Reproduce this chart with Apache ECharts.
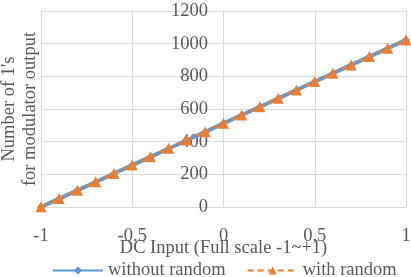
<!DOCTYPE html>
<html>
<head>
<meta charset="utf-8">
<script src="https://cdn.jsdelivr.net/npm/echarts@6/dist/echarts.min.js"></script>
<style>
html, body { margin: 0; padding: 0; background: #fff; }
#chart { width: 411px; height: 277px; }
</style>
</head>
<body>
<div id="chart"></div>
<script>
var chart = echarts.init(document.getElementById('chart'), null, { renderer: 'canvas' });

// DC input, full scale -1 ~ +1
var dcInput = [-1, -0.9, -0.8, -0.7, -0.6, -0.5, -0.4, -0.3, -0.2, -0.1, 0,
               0.1, 0.2, 0.3, 0.4, 0.5, 0.6, 0.7, 0.8, 0.9, 1];
var withoutRandom = [0, 51, 102, 153, 205, 256, 307, 358, 409, 460, 512,
                     563, 614, 665, 716, 768, 819, 870, 921, 972, 1023];
var withRandom = [2, 52, 103, 154, 205, 257, 307, 359, 410, 461, 512,
                  563, 614, 666, 717, 768, 819, 870, 921, 972, 1022];

function pairs(xs, ys) {
    var out = [];
    for (var i = 0; i < xs.length; i++) out.push([xs[i], ys[i]]);
    return out;
}

var serif = '"Liberation Serif", "DejaVu Serif", serif';
var grey = '#595959';
var fs = 18.5;

chart.setOption({
    animation: false,
    textStyle: { fontFamily: serif },
    grid: { left: 41, right: 5, top: 11, bottom: 70, containLabel: false, outerBoundsMode: 'none' },
    legend: {
        top: 256,
        left: 47,
        itemWidth: 50,
        itemHeight: 10,
        itemGap: 21,
        data: ['without random', 'with random'],
        textStyle: { fontFamily: serif, fontSize: fs, color: grey }
    },
    xAxis: {
        type: 'value',
        min: -1,
        max: 1,
        interval: 0.5,
        name: 'DC Input (Full scale -1~+1)',
        nameLocation: 'middle',
        nameGap: 32,
        nameMoveOverlap: false,
        nameTextStyle: { fontFamily: serif, fontSize: fs, color: grey },
        axisLine: { show: false, onZero: false },
        axisTick: { show: false },
        axisLabel: { fontFamily: serif, fontSize: fs, color: grey, margin: 20 },
        splitLine: { lineStyle: { color: '#d9d9d9', width: 1 } }
    },
    yAxis: {
        type: 'value',
        min: 0,
        max: 1200,
        interval: 200,
        // the value labels sit on the x = 0 line, as in the original
        offset: -183,
        name: "Number of 1's\nfor modulator output",
        nameLocation: 'middle',
        nameGap: 183,
        nameMoveOverlap: false,
        nameTextStyle: { fontFamily: serif, fontSize: fs, color: grey, lineHeight: 21 },
        axisLine: { show: false, onZero: false },
        axisTick: { show: false },
        axisLabel: {
            fontFamily: serif, fontSize: fs, color: grey, margin: 16,
            formatter: function (v) { return String(v); }
        },
        splitLine: { lineStyle: { color: '#d9d9d9', width: 1 } }
    },
    series: [
        {
            name: 'without random',
            type: 'line',
            data: pairs(dcInput, withoutRandom),
            symbol: 'diamond',
            symbolSize: 8,
            itemStyle: { color: '#5b9bd5' },
            lineStyle: { color: '#5b9bd5', width: 4 },
            z: 2
        },
        {
            name: 'with random',
            type: 'line',
            data: pairs(dcInput, withRandom),
            symbol: 'triangle',
            symbolSize: 11,
            itemStyle: { color: '#ed7d31' },
            lineStyle: { color: '#ed7d31', width: 2, type: [6, 4] },
            z: 3
        }
    ]
});
</script>
</body>
</html>
